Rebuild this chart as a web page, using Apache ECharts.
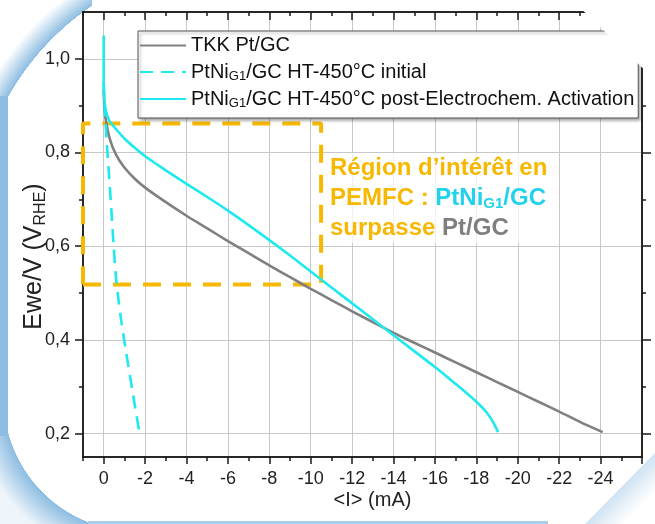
<!DOCTYPE html>
<html>
<head>
<meta charset="utf-8">
<script src="https://cdn.jsdelivr.net/npm/echarts@6/dist/echarts.min.js"></script>
<style>html,body{margin:0;padding:0;background:#fff}#c{width:655px;height:524px}</style>
</head>
<body>
<div id="c"></div>
<script>
// ---------- data ----------
const seriesNames = ['TKK Pt/GC', 'PtNiG1/GC HT-450°C initial', 'PtNiG1/GC HT-450°C post-Electrochem. Activation'];
const legendLabels = ['TKK Pt/GC', 'PtNi{sub|G1}/GC HT-450°C initial', 'PtNi{sub|G1}/GC HT-450°C post-Electrochem. Activation'];

const tkkI = [0, -0.03, -0.1, -0.3, -0.6, -1, -1.5, -2, -3, -4, -5, -6, -7, -8, -9, -10, -11, -12, -13, -14, -15, -16, -17, -18, -19, -20, -21, -22, -23, -24.1];
const tkkV = [0.935, 0.9, 0.87, 0.828, 0.795, 0.768, 0.744, 0.725, 0.694, 0.665, 0.638, 0.611, 0.585, 0.559, 0.534, 0.509, 0.485, 0.461, 0.438, 0.415, 0.394, 0.373, 0.352, 0.331, 0.31, 0.289, 0.268, 0.247, 0.225, 0.203];

const initI = [0, -0.03, -0.08, -0.14, -0.25, -0.37, -0.48, -0.58, -0.7, -0.85, -1.06, -1.4, -1.72];
const initV = [0.95, 0.91, 0.87, 0.826, 0.756, 0.677, 0.6, 0.54, 0.49, 0.44, 0.38, 0.288, 0.203];

const postI = [0, 0, -0.03, -0.1, -0.25, -0.5, -1, -1.5, -2, -3, -4, -5, -6, -7, -8, -9, -10, -11, -12, -13, -14, -15, -16, -17, -18, -18.5, -18.8, -19.05];
const postV = [1.05, 0.95, 0.915, 0.89, 0.87, 0.855, 0.83, 0.81, 0.792, 0.762, 0.733, 0.705, 0.676, 0.645, 0.613, 0.58, 0.546, 0.512, 0.478, 0.444, 0.41, 0.376, 0.342, 0.306, 0.268, 0.245, 0.225, 0.203];

// region of interest box (current range and potential range)
const regionI = [1, -10.5];
const regionV = [0.518, 0.862];

// axes
const xMin = -26, xMax = 1;
const yMin = 0.15, yMax = 1.1;
const xMajorTicks = [0, -2, -4, -6, -8, -10, -12, -14, -16, -18, -20, -22, -24, -26];
const xMinorTicks = [1, -1, -3, -5, -7, -9, -11, -13, -15, -17, -19, -21, -23, -25];
const xLabelValues = [0, -2, -4, -6, -8, -10, -12, -14, -16, -18, -20, -22, -24];
const yMajorTicks = [0.2, 0.4, 0.6, 0.8, 1.0];
const yMinorTicks = [0.3, 0.5, 0.7, 0.9];
const yLabelValues = [0.2, 0.4, 0.6, 0.8, 1.0];

// ---------- styles ----------
const FONT = '"Liberation Sans", Arial, sans-serif';
const GRAY = '#808080';
const CYAN = '#1DE9EE';
const ORANGE = '#F6B800';
const AXIS = '#1a1a1a';
const BLUE = '#8DBDE2';

const zip = (a, b) => a.map((v, i) => [v, b[i]]);
const regionPoly = [
  [regionI[0], regionV[0]], [regionI[1], regionV[0]], [regionI[1], regionV[1]],
  [regionI[0], regionV[1]], [regionI[0], regionV[0]]
];

const gridPos = { left: 83, right: 13, top: 12, bottom: 67, containLabel: false, outerBoundsMode: 'none' };
const axisLine = { show: true, onZero: false, lineStyle: { color: AXIS, width: 1.5 } };

function xAx(gridIndex, position, ticks, len, inside, extra) {
  return Object.assign({
    type: 'value', gridIndex, position, min: xMin, max: xMax, inverse: true,
    axisLine, axisTick: { show: true, inside, length: len, customValues: ticks, lineStyle: { color: AXIS, width: 1.5 } },
    axisLabel: { show: false }, splitLine: { show: false }
  }, extra || {});
}
function yAx(gridIndex, position, ticks, len, inside, extra) {
  return Object.assign({
    type: 'value', gridIndex, position, min: yMin, max: yMax,
    axisLine, axisTick: { show: true, inside, length: len, customValues: ticks, lineStyle: { color: AXIS, width: 1.5 } },
    axisLabel: { show: false }, splitLine: { show: false }
  }, extra || {});
}

const option = {
  backgroundColor: '#ffffff',
  animation: false,
  grid: [Object.assign({}, gridPos), Object.assign({}, gridPos)],
  xAxis: [
    xAx(0, 'bottom', xMajorTicks, 7, false, {
      axisLabel: { show: true, customValues: xLabelValues, margin: 13, fontFamily: FONT, fontSize: 18, color: '#222' },
      splitLine: { show: true, lineStyle: { color: '#c8c8c8', width: 1 } },
      name: '<I> (mA)', nameLocation: 'middle', nameGap: 33, nameMoveOverlap: false,
      nameTextStyle: { fontFamily: FONT, fontSize: 20, color: '#222', padding: [0, 0, 0, 20] }
    }),
    xAx(0, 'top', xMajorTicks, 8, true),
    xAx(1, 'bottom', xMinorTicks, 4, false),
    xAx(1, 'top', xMinorTicks, 4, true)
  ],
  yAxis: [
    yAx(0, 'left', yMajorTicks, 8, false, {
      axisLabel: { show: true, customValues: yLabelValues, margin: 13, fontFamily: FONT, fontSize: 18, color: '#222',
        formatter: v => v.toFixed(1).replace('.', ',') },
      splitLine: { show: true, lineStyle: { color: '#c8c8c8', width: 1 } },
      name: 'Ewe/V (V{sub|RHE})', nameLocation: 'middle', nameGap: 36, nameMoveOverlap: false,
      nameTextStyle: { fontFamily: FONT, fontSize: 25, color: '#222', padding: [0, 44, 0, 0],
        rich: { sub: { fontFamily: FONT, fontSize: 16, color: '#222', lineHeight: 16, padding: [13, 0, 0, 0] } } }
    }),
    yAx(0, 'right', yMajorTicks, 9, false),
    yAx(1, 'left', yMinorTicks, 4, false),
    yAx(1, 'right', yMinorTicks, 4, false)
  ],
  legend: {
    data: seriesNames,
    orient: 'vertical', left: 138, top: 31,
    padding: [4, 4, 8, 1],
    itemWidth: 46, itemHeight: 14, itemGap: 5,
    backgroundColor: '#ffffff', borderColor: '#555', borderWidth: 1, borderRadius: 0,
    shadowColor: 'rgba(0,0,0,0.35)', shadowBlur: 3, shadowOffsetX: 2, shadowOffsetY: 2,
    itemStyle: { opacity: 0, borderWidth: 0, color: 'rgba(0,0,0,0)' },
    formatter: name => legendLabels[seriesNames.indexOf(name)],
    textStyle: { fontFamily: FONT, fontSize: 20, color: '#111', lineHeight: 21,
      rich: { sub: { fontFamily: FONT, fontSize: 13, color: '#111', lineHeight: 13, padding: [9, 0, 0, 0] } } }
  },
  series: [
    {
      name: 'region', type: 'line', xAxisIndex: 0, yAxisIndex: 0, data: regionPoly,
      symbol: 'none', clip: false, z: 1, silent: true,
      lineStyle: { color: ORANGE, width: 4, type: [18, 12] }
    },
    {
      name: seriesNames[0], type: 'line', xAxisIndex: 0, yAxisIndex: 0, data: zip(tkkI, tkkV),
      symbol: 'none', smooth: 0.25, color: GRAY,
      lineStyle: { color: GRAY, width: 2.6 }
    },
    {
      name: seriesNames[1], type: 'line', xAxisIndex: 0, yAxisIndex: 0, data: zip(initI, initV),
      symbol: 'none', smooth: 0.3, color: CYAN,
      lineStyle: { color: CYAN, width: 2.6, type: [13, 8] }
    },
    {
      name: seriesNames[2], type: 'line', xAxisIndex: 0, yAxisIndex: 0, data: zip(postI, postV),
      symbol: 'none', smooth: 0.3, color: CYAN,
      lineStyle: { color: CYAN, width: 2.6 }
    }
  ],
  graphic: [
    // annotation
    {
      type: 'text', left: 330, top: 153, z: 20,
      style: {
        text: '{o|Région d’intérêt en}\n{o|PEMFC : }{c|PtNi}{cs|G1}{c|/GC}\n{o|surpasse }{g|Pt/GC}',
        backgroundColor: 'rgba(255,255,255,0.75)',
        rich: {
          o: { fontFamily: FONT, fontWeight: 'bold', fontSize: 24, lineHeight: 30, fill: ORANGE, color: ORANGE },
          c: { fontFamily: FONT, fontWeight: 'bold', fontSize: 24, lineHeight: 30, fill: '#22D2EC', color: '#22D2EC' },
          cs: { fontFamily: FONT, fontWeight: 'bold', fontSize: 15, lineHeight: 15, padding: [12, 0, 0, 0], fill: '#22D2EC', color: '#22D2EC' },
          g: { fontFamily: FONT, fontWeight: 'bold', fontSize: 24, lineHeight: 30, fill: '#7F7F7F', color: '#7F7F7F' }
        }
      }
    },
    // decorative frame: left glow strip
    { type: 'rect', z: -10, silent: true, shape: { x: 0, y: 96, width: 8, height: 340 }, style: { fill: BLUE } },
    // top-left glow arc
    { type: 'rect', z: -10, silent: true, shape: { x: 0, y: 0, width: 92, height: 112 },
      style: { fill: { type: 'radial', x: 243, y: 229, r: 292, global: true, colorStops: [
        { offset: 0, color: 'rgba(141,189,226,0)' }, { offset: 0.9225, color: 'rgba(141,189,226,0)' },
        { offset: 0.9235, color: 'rgba(141,189,226,1)' }, { offset: 1, color: 'rgba(141,189,226,0)' } ] } } },
    // bottom-left glow arc
    { type: 'rect', z: -10, silent: true, shape: { x: 0, y: 425, width: 100, height: 99 },
      style: { fill: { type: 'radial', x: 137, y: 398, r: 164, global: true, colorStops: [
        { offset: 0, color: 'rgba(141,189,226,0)' }, { offset: 0.812, color: 'rgba(141,189,226,0)' },
        { offset: 0.815, color: 'rgba(141,189,226,1)' }, { offset: 1, color: 'rgba(141,189,226,0.15)' } ] } } },
    // bottom glow line
    { type: 'rect', z: -10, silent: true, shape: { x: 88, y: 521, width: 460, height: 3 }, style: { fill: '#A9CDEA' } },
    // top-right cut
    { type: 'polygon', z: 100, silent: true, shape: { points: [[572, 0], [655, 0], [655, 80]] }, style: { fill: '#ffffff' } },
    // bottom-right cut
    { type: 'polygon', z: 100, silent: true, shape: { points: [[655, 453], [655, 524], [585, 524]] },
      style: { fill: { type: 'linear', x: 620, y: 488, x2: 640, y2: 508, global: true, colorStops: [
        { offset: 0, color: '#cfe2f3' }, { offset: 1, color: '#ffffff' } ] } } }
  ]
};

const chart = echarts.init(document.getElementById('c'), null, { renderer: 'canvas' });
chart.setOption(option);
</script>
</body>
</html>
